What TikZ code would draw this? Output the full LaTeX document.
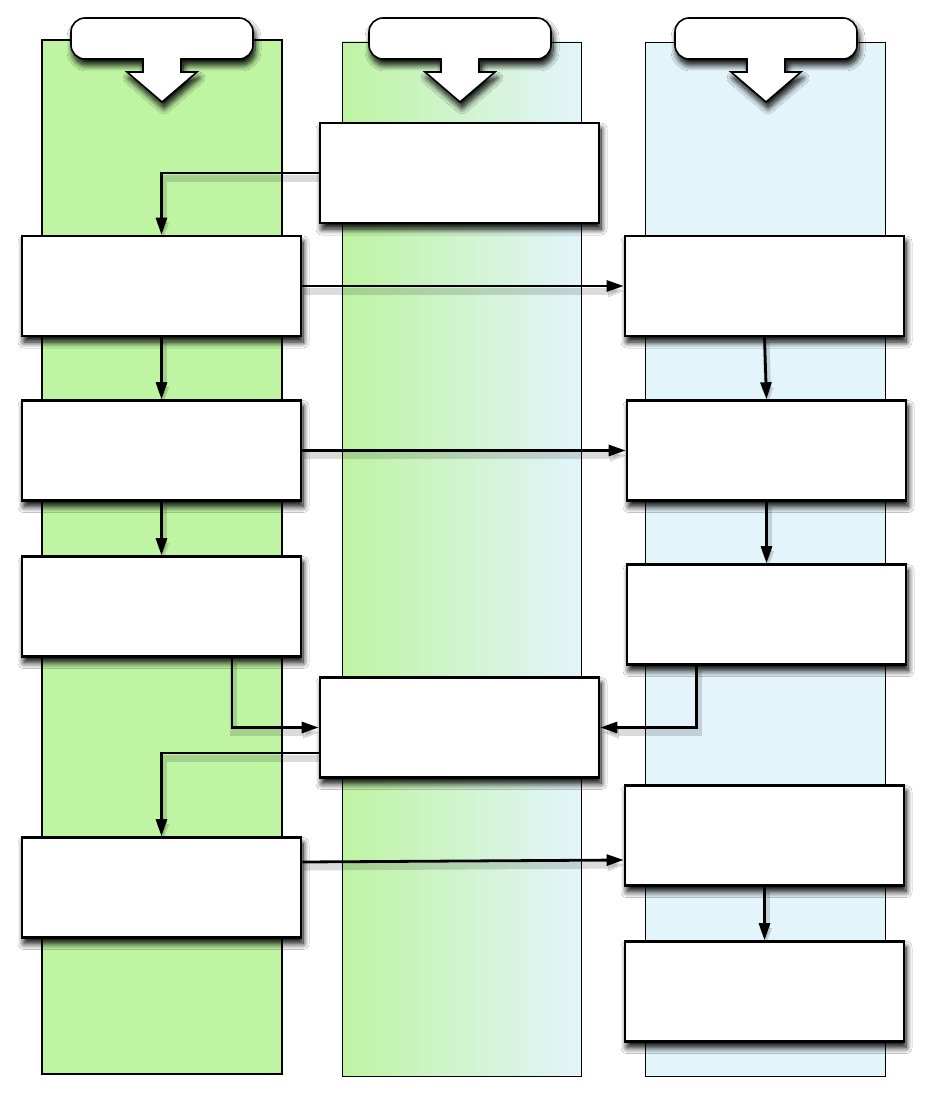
\documentclass[tikz,border=0pt]{standalone}
\usetikzlibrary{arrows.meta,calc,positioning,shadows.blur}
\definecolor{laneGreen}{HTML}{BEF4A2}
\definecolor{laneBlue}{HTML}{E3F4FB}
\definecolor{laneInk}{HTML}{000000}

\begin{document}
\begin{tikzpicture}[x=1pt,y=-1pt,>={Triangle[length=17pt,width=11pt]},line join=miter]
\useasboundingbox (0,0) rectangle (933,1097);
\path[fill=white] (0,0) rectangle (933,1097);
\tikzset{lane/.style={draw=laneInk,line width=0.9pt},softshadow/.style={blur shadow={shadow xshift=2pt,shadow yshift=-6pt,shadow blur radius=6pt,shadow blur steps=10,shadow opacity=100}},stepbox/.style={draw=laneInk,fill=white,line width=2.6pt,minimum width=279pt,minimum height=100pt,inner sep=0pt,softshadow},flow/.style={draw=laneInk,line width=2.8pt,->,preaction={draw=black,opacity=0.14,line width=7pt,transform canvas={xshift=1.5pt,yshift=-5pt}}}}
% swimlanes
\path[lane,fill=laneGreen,line width=1.6pt] (42,40) rectangle (282,1074);
\path[lane,left color=laneGreen,right color=laneBlue] (342,42) rectangle (581,1076);
\path[lane,fill=laneBlue] (645,42) rectangle (885,1076);
% lane headers
\foreach \cx in {162,460,766}{
  \path[softshadow,rounded corners=14pt] (\cx-91,18) rectangle (\cx+91,59);
  \path[softshadow] (\cx-19,59) -- (\cx-19,72) -- (\cx-35,72) -- (\cx,102) -- (\cx+35,72) -- (\cx+19,72) -- (\cx+19,59) -- cycle;
  \filldraw[fill=white,draw=laneInk,line width=1.6pt,rounded corners=14pt] (\cx-91,18) rectangle (\cx+91,59);
  \filldraw[fill=white,draw=laneInk,line width=1.6pt] (\cx-19,59) -- (\cx-19,72) -- (\cx-35,72) -- (\cx,102) -- (\cx+35,72) -- (\cx+19,72) -- (\cx+19,59);
  \fill[white] (\cx-18.2,57) rectangle (\cx+18.2,62);
}
% steps
\node[stepbox] (m1) at (459.5,173) {};
\node[stepbox] (l1) at (161.5,286) {};
\node[stepbox] (r1) at (764.5,286) {};
\node[stepbox] (l2) at (161.5,450.5) {};
\node[stepbox] (r2) at (766.5,450.5) {};
\node[stepbox] (l3) at (161.5,606.5) {};
\node[stepbox] (r3) at (766.5,614.5) {};
\node[stepbox] (m2) at (459.5,727.5) {};
\node[stepbox] (r4) at (764.5,835.5) {};
\node[stepbox] (l4) at (161.5,887.5) {};
\node[stepbox] (r5) at (764.5,991.5) {};
% flow
\draw[flow] (m1.west) -| (l1.north);
\draw[flow] (l1.east) -- (r1.west);
\draw[flow] (l1.south) -- (l2.north);
\draw[flow] (r1.south) -- (r2.north);
\draw[flow] (l2.east) -- (r2.west);
\draw[flow] (l2.south) -- (l3.north);
\draw[flow] (r2.south) -- (r3.north);
\draw[flow] ($(l3.south)+(70.5,0)$) |- (m2.west);
\draw[flow] ($(r3.south)+(-70,0)$) |- (m2.east);
\draw[flow] ($(m2.west)+(0,25.5)$) -| (l4.north);
\draw[flow] ($(l4.east)+(0,-25.5)$) -- ($(r4.west)+(0,24.5)$);
\draw[flow] (r4.south) -- (r5.north);
\end{tikzpicture}
\end{document}
